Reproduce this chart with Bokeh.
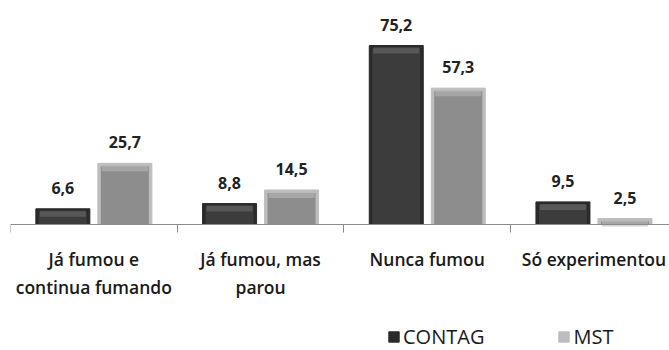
from bokeh.plotting import figure
from bokeh.models import (ColumnDataSource, Range1d, FixedTicker, Legend, LegendItem, LabelSet)
from bokeh.transform import dodge
from bokeh.core.properties import value
from bokeh.embed import file_html
from bokeh.resources import INLINE

categories = ["Já fumou e\ncontinua fumando", "Já fumou, mas\nparou", "Nunca fumou", "Só experimentou"]
contag = [6.6, 8.8, 75.2, 9.5]
mst = [25.7, 14.5, 57.3, 2.5]
series_names = ["CONTAG", "MST"]

def fmt(v):
    return f"{v:.1f}".replace(".", ",")

n = len(categories)
centers = [i + 0.5 for i in range(n)]
src = ColumnDataSource(dict(
    xc=centers,
    contag=contag,
    mst=mst,
    contag_lbl=[fmt(v) for v in contag],
    mst_lbl=[fmt(v) for v in mst],
))

W, H = 669, 350
left = 10
cat_px = 166.7
frame_w = W - left
base_px = 224.0                      # pixels from frame top to the zero line
y_top = base_px / 2.38
py = y_top / base_px                 # one pixel in y data units
y_bot = -(H - base_px) * py

p = figure(width=W, height=H, output_backend="svg", toolbar_location=None,
           x_range=Range1d(0, frame_w / cat_px), y_range=Range1d(y_bot, y_top),
           min_border_left=left, min_border_right=0, min_border_top=0, min_border_bottom=0)
p.outline_line_color = None
p.grid.visible = False
p.yaxis.visible = False

px = 1.0 / cat_px
bw = 54 * px
off = 31 * px

styles = {
    "contag": dict(edge="#2a2a2a", main="#3c3c3c", hi="#6b6b6b", o=-off),
    "mst": dict(edge="#bdbdbd", main="#8d8d8d", hi="#b8b8b8", o=off),
}
legend_items = []
for key, name in zip(["contag", "mst"], series_names):
    s = styles[key]
    outer = p.vbar(x=dodge("xc", s["o"], range=p.x_range), top=key, width=bw, bottom=0,
                   source=src, fill_color=s["edge"], line_color=s["edge"], line_width=1)
    p.vbar(x=dodge("xc", s["o"], range=p.x_range), top=dodge(key, -3 * py), width=bw - 6 * px,
           bottom=0, source=src, fill_color=s["main"], line_color=None)
    p.vbar(x=dodge("xc", s["o"], range=p.x_range), top=dodge(key, -2 * py), width=bw - 8 * px,
           bottom=dodge(key, -8 * py), source=src, fill_color=s["hi"], fill_alpha=0.6, line_color=None)
    labels = LabelSet(x=dodge("xc", s["o"], range=p.x_range), y=key, text=key + "_lbl", source=src,
                      text_align="center", text_baseline="bottom", y_offset=15,
                      text_font=value("Open Sans"), text_font_style="bold",
                      text_font_size="16px", text_color="#222222")
    p.add_layout(labels)
    legend_items.append(LegendItem(label=name, renderers=[outer]))

ax = p.xaxis[0]
ax.fixed_location = 0
ax.ticker = FixedTicker(ticks=centers, minor_ticks=[float(i) for i in range(n + 1)])
ax.major_label_overrides = {c: lab for c, lab in zip(centers, categories)}
ax.major_tick_out = 0
ax.major_tick_in = 0
ax.minor_tick_out = 8
ax.minor_tick_in = 0
ax.minor_tick_line_color = "#8a8a8a"
ax.axis_line_color = "#8a8a8a"
ax.axis_line_width = 1
ax.major_label_standoff = 14
ax.major_label_text_font = "Open Sans SemiBold"
ax.major_label_text_font_size = "17.5px"
ax.major_label_text_color = "#1a1a1a"

legend = Legend(items=legend_items, orientation="horizontal", location=(377, 0),
                spacing=73, glyph_width=13, glyph_height=13, label_standoff=3,
                padding=0, margin=0, border_line_color=None, background_fill_alpha=0,
                label_text_font="Open Sans", label_text_font_size="20px",
                label_text_color="#1a1a1a")
p.add_layout(legend, "center")

open("out.html", "w").write(file_html(p, INLINE))
